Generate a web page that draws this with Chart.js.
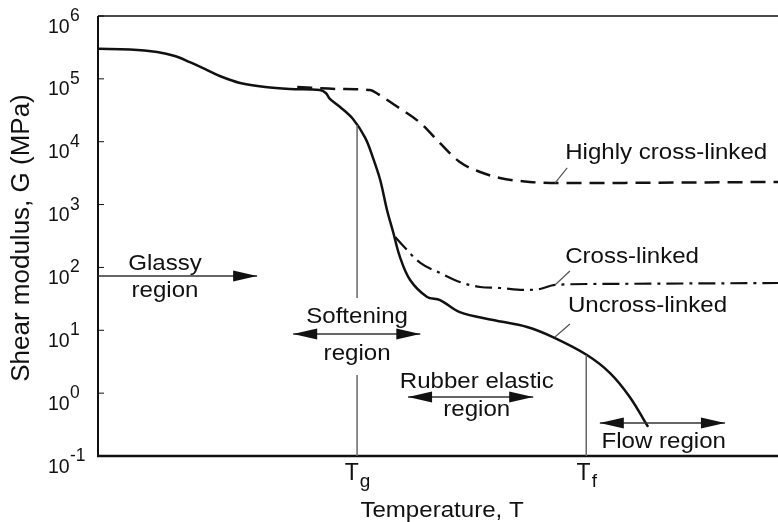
<!DOCTYPE html>
<html>
<head>
<meta charset="utf-8">
<script src="https://cdn.jsdelivr.net/npm/chart.js@4.4.0/dist/chart.umd.min.js"></script>
<style>
body{margin:0;background:#fff;}
#wrap{width:778px;height:522px;}
</style>
</head>
<body>
<div id="wrap"><canvas id="modulus-chart" width="778" height="522"></canvas></div>
<script>
// temperature axis has no units: 0 = left edge of plot, 100 = right edge
var Tg = 38.1, Tf = 71.8;
var xTickValues = [Tg, Tf];
var xTickLabels = [["T", "g"], ["T", "f"]];
var yTickExponents = [-1, 0, 1, 2, 3, 4, 5, 6];

// uncross-linked (solid)
var uncrossT = [0, 4.7, 8.7, 11.3, 13.5, 15.7, 17.9, 20.9, 24.6, 28.2, 32.6, 33.5, 34.1, 35.6, 37.5, 39.3, 40.4, 41.5, 42.5, 43.4, 44.4, 45.9, 48.4, 50.3, 53.2, 58.1, 63.1, 66.9, 71.9, 75.3, 78.2, 80.9];
var uncrossG = [3.0e5, 2.93e5, 2.67e5, 2.31e5, 1.85e5, 1.44e5, 1.11e5, 8.6e4, 7.4e4, 6.9e4, 6.65e4, 5.96e4, 4.8e4, 3.57e4, 2.3e4, 1.15e4, 5.7e3, 2.46e3, 820, 366, 147, 63, 33.9, 30.3, 19.5, 14.6, 11.3, 7.8, 4.05, 2.09, 0.87, 0.29];

// highly cross-linked (dashed)
var highT = [29.3, 35.6, 40.0, 41.2, 43.7, 47.4, 50.3, 53.2, 56.2, 59.1, 63.5, 67.9, 100];
var highG = [7.4e4, 6.9e4, 6.65e4, 5.7e4, 3.8e4, 1.99e4, 9.5e3, 4.75e3, 3.3e3, 2.65e3, 2.29e3, 2.2e3, 2.29e3];

// cross-linked (dash-dot)
var crossT = [43.7, 44.9, 47.4, 50.3, 53.2, 56.2, 59.1, 62.5, 65.0, 67.2, 73.8, 100];
var crossG = [305, 219, 118, 81.6, 58.7, 48.8, 47.1, 43.8, 45.4, 52.6, 54.6, 56.5];

// text and arrows, placed in data units
var regionLabels = [
  {text: "Glassy", t: 9.85, g: 91},
  {text: "region", t: 9.85, g: 33.9},
  {text: "Softening", t: 38.1, g: 13.1},
  {text: "region", t: 38.1, g: 3.37},
  {text: "Rubber elastic", t: 55.7, g: 1.21},
  {text: "region", t: 55.7, g: 0.43},
  {text: "Flow region", t: 83.2, g: 0.134}
];
var regionArrows = [
  {t1: 0, t2: 23.4, g: 73, both: false},
  {t1: 28.7, t2: 47.4, g: 8.7, both: true},
  {t1: 45.6, t2: 64.0, g: 0.87, both: true},
  {t1: 73.8, t2: 92.2, g: 0.335, both: true}
];
var curveLabels = [
  {text: "Highly cross-linked", t: 68.7, g: 5300, lead: [67.2, 2200, 69.0, 3820]},
  {text: "Cross-linked", t: 68.7, g: 118, lead: [67.2, 52.6, 69.4, 87.7]},
  {text: "Uncross-linked", t: 69.1, g: 19.5, lead: [67.2, 7.8, 69.4, 12.6]}
];
var markerLines = [
  {t: Tg, g1: 1.85e4, g2: 32.6},
  {t: Tg, g1: 1.95, g2: 0.1},
  {t: Tf, g1: 4.05, g2: 0.1}
];

function pts(xs, ys) {
  return xs.map(function (x, i) { return {x: x, y: ys[i]}; });
}

var FONT = '"Liberation Sans", Arial, Helvetica, sans-serif';

function stretchText(c, str, x, y, size, align) {
  c.save();
  c.font = size + 'px ' + FONT;
  c.translate(x, y);
  c.scale(1.07, 1);
  c.textAlign = align || 'center';
  c.textBaseline = 'alphabetic';
  c.fillText(str, 0, 0);
  c.restore();
}

function head(c, x, y, dir) {
  c.beginPath();
  c.moveTo(x, y);
  c.lineTo(x - dir * 24, y - 5.5);
  c.lineTo(x - dir * 24, y + 5.5);
  c.closePath();
  c.fill();
}

var decorations = {
  id: 'decorations',
  afterDatasetsDraw: function (chart) {
    var c = chart.ctx, a = chart.chartArea;
    var xs = chart.scales.x, ys = chart.scales.y;
    var X = function (v) { return xs.getPixelForValue(v); };
    var Y = function (v) { return ys.getPixelForValue(v); };
    c.save();

    // frame
    c.strokeStyle = '#111';
    c.lineWidth = 1.5;
    c.beginPath(); c.moveTo(a.left, a.top); c.lineTo(a.right, a.top); c.stroke();
    c.lineWidth = 2;
    c.beginPath(); c.moveTo(a.left, a.top); c.lineTo(a.left, a.bottom); c.stroke();
    c.lineWidth = 2.5;
    c.beginPath(); c.moveTo(a.left - 1, a.bottom); c.lineTo(a.right, a.bottom); c.stroke();

    // y ticks (inward) and labels 10^n
    c.lineWidth = 1;
    c.fillStyle = '#111';
    yTickExponents.forEach(function (e) {
      var py = Y(Math.pow(10, e));
      c.beginPath(); c.moveTo(a.left, py); c.lineTo(a.left + 6, py); c.stroke();
      c.font = '19.5px ' + FONT;
      c.textAlign = 'left';
      c.fillText('10', a.left - 50, py + 16.5);
      c.font = '17.5px ' + FONT;
      c.fillText(String(e), a.left - 28, py + 5);
    });

    // x tick labels T_g, T_f
    xTickValues.forEach(function (v, i) {
      var px = X(v);
      c.font = '23px ' + FONT;
      var w1 = c.measureText(xTickLabels[i][0]).width;
      c.font = '19px ' + FONT;
      var w2 = c.measureText(xTickLabels[i][1]).width;
      var x0 = px - (w1 + w2) / 2;
      c.textAlign = 'left';
      c.font = '23px ' + FONT;
      c.fillText(xTickLabels[i][0], x0, a.bottom + 24);
      c.font = '19px ' + FONT;
      c.fillText(xTickLabels[i][1], x0 + w1 + 1, a.bottom + 31);
    });

    // axis titles
    stretchText(c, 'Temperature, T', (a.left + a.right) / 2 + 4, a.bottom + 61, 22.5);
    c.save();
    c.translate(22, 238);
    c.rotate(-Math.PI / 2);
    c.font = '26px ' + FONT;
    c.textAlign = 'center';
    c.textBaseline = 'middle';
    c.fillText('Shear modulus, G (MPa)', 0, 0);
    c.restore();

    // Tg / Tf marker lines
    c.strokeStyle = '#666';
    c.lineWidth = 1.5;
    markerLines.forEach(function (m) {
      c.beginPath(); c.moveTo(X(m.t), Y(m.g1)); c.lineTo(X(m.t), Y(m.g2)); c.stroke();
    });

    // region arrows
    c.strokeStyle = '#333';
    c.fillStyle = '#111';
    c.lineWidth = 1.5;
    regionArrows.forEach(function (r) {
      var x1 = X(r.t1), x2 = X(r.t2), py = Y(r.g);
      c.beginPath(); c.moveTo(x1, py); c.lineTo(x2, py); c.stroke();
      head(c, x2, py, 1);
      if (r.both) head(c, x1, py, -1);
    });

    regionLabels.forEach(function (l) {
      stretchText(c, l.text, X(l.t), Y(l.g), 22.5, 'center');
    });

    // curve labels with leader lines
    c.strokeStyle = '#555';
    c.lineWidth = 1.2;
    curveLabels.forEach(function (l) {
      c.beginPath();
      c.moveTo(X(l.lead[0]), Y(l.lead[1]));
      c.lineTo(X(l.lead[2]), Y(l.lead[3]));
      c.stroke();
      stretchText(c, l.text, X(l.t), Y(l.g), 22.5, 'left');
    });

    c.restore();
  }
};

var ctx = document.getElementById('modulus-chart');
var chart = new Chart(ctx, {
  type: 'line',
  data: {
    datasets: [{
      label: 'Uncross-linked',
      data: pts(uncrossT, uncrossG),
      borderColor: '#111',
      borderWidth: 2.5,
      pointRadius: 0,
      tension: 0.35
    }, {
      label: 'Highly cross-linked',
      data: pts(highT, highG),
      borderColor: '#111',
      borderWidth: 2.5,
      borderDash: [15, 8],
      pointRadius: 0,
      cubicInterpolationMode: 'monotone'
    }, {
      label: 'Cross-linked',
      data: pts(crossT, crossG),
      borderColor: '#111',
      borderWidth: 2.2,
      borderDash: [17, 6, 3, 6],
      pointRadius: 0,
      cubicInterpolationMode: 'monotone'
    }]
  },
  options: {
    responsive: false,
    animation: false,
    layout: { padding: { left: 98, top: 16, right: 0, bottom: 66 } },
    plugins: { legend: { display: false }, tooltip: { enabled: false } },
    scales: {
      x: { type: 'linear', min: 0, max: 100, display: false },
      y: { type: 'logarithmic', min: 0.1, max: 1e6, display: false }
    }
  },
  plugins: [decorations]
});
</script>
</body>
</html>
